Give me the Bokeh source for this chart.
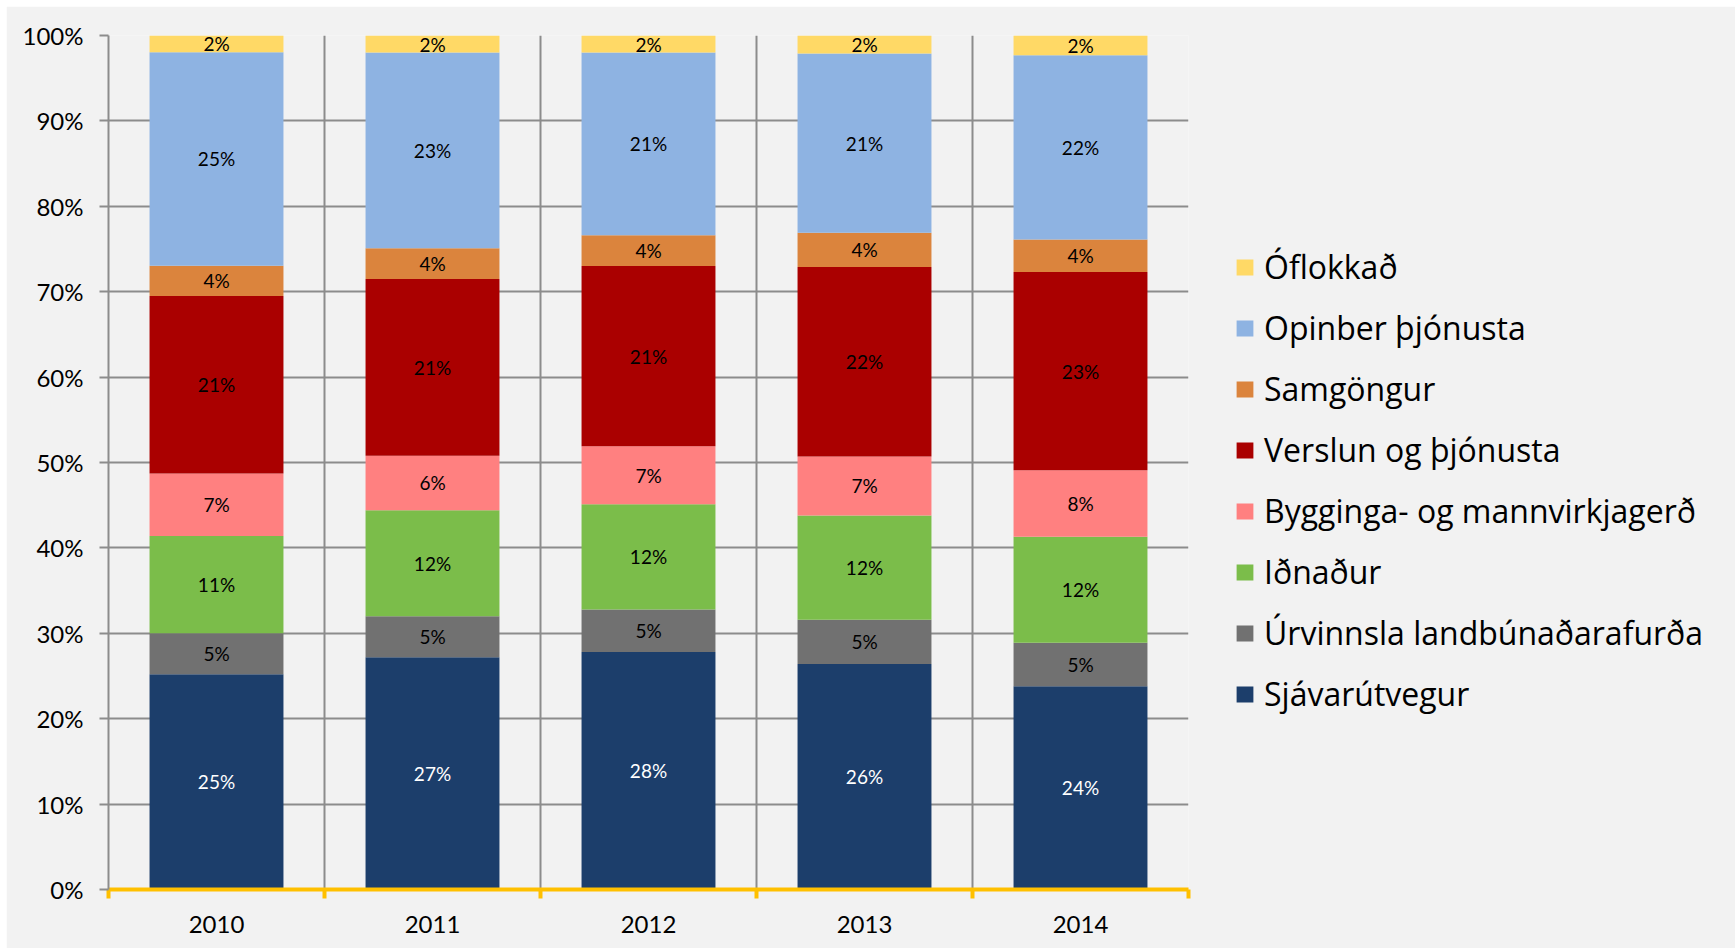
from bokeh.plotting import figure
from bokeh.models import (Range1d, FixedTicker, Legend, LegendItem, ColumnDataSource,
                          PrintfTickFormatter)
from bokeh.core.properties import value
from bokeh.embed import file_html
from bokeh.resources import INLINE

years = [2010, 2011, 2012, 2013, 2014]

# percentage shares per sector (bottom to top of each stack)
sjavarutvegur = [25.2, 27.2, 27.8, 26.4, 23.8]
urvinnsla = [4.8, 4.8, 5.0, 5.2, 5.1]
idnadur = [11.4, 12.4, 12.3, 12.2, 12.4]
bygginga = [7.3, 6.4, 6.8, 6.9, 7.8]
verslun = [20.8, 20.7, 21.1, 22.2, 23.2]
samgongur = [3.55, 3.6, 3.6, 4.0, 3.8]
opinber = [25.0, 22.9, 21.4, 21.0, 21.6]
oflokkad = [2.0, 2.0, 2.0, 2.1, 2.3]

series_names = ["Sjávarútvegur", "Úrvinnsla landbúnaðarafurða", "Iðnaður",
                "Bygginga- og mannvirkjagerð", "Verslun og þjónusta", "Samgöngur",
                "Opinber þjónusta", "Óflokkað"]
series_values = [sjavarutvegur, urvinnsla, idnadur, bygginga, verslun, samgongur,
                 opinber, oflokkad]
colors = ["#1C3E6B", "#717171", "#7BBD4A", "#FF8080", "#AA0000", "#DB843D",
          "#8EB3E2", "#FFD966"]
label_colors = ["#FFFFFF"] + ["#000000"] * 7

yticks = list(range(0, 101, 10))

keys = ["s%d" % i for i in range(len(series_names))]
data = {"year": years}
for k, vals in zip(keys, series_values):
    data[k] = vals
source = ColumnDataSource(data)

FONT = "Lato"
LEGEND_FONT = "Open Sans"
GRID = "#8C8C8C"
GOLD = "#FFC000"
BG = "#F2F2F2"

p = figure(frame_width=1080, frame_height=854, min_border_left=102, min_border_top=29,
           min_border_bottom=59, min_border_right=541,
           x_range=Range1d(years[0] - 0.5, years[-1] + 0.5), y_range=Range1d(0, 100),
           output_backend="svg", toolbar_location=None,
           background_fill_color=BG, border_fill_color=BG, outline_line_color=None)
p.margin = (6, 0, 0, 6)

renderers = p.vbar_stack(keys, x="year", width=0.62, color=colors, source=source,
                         line_color=None)

# data labels
lx, ly, lt, lc = [], [], [], []
for yi, yr in enumerate(years):
    cum = 0.0
    for si, vals in enumerate(series_values):
        v = vals[yi]
        lx.append(yr)
        ly.append(cum + v / 2.0)
        lt.append("%.0f%%" % v)
        lc.append(label_colors[si])
        cum += v
lsrc = ColumnDataSource(dict(x=lx, y=ly, text=lt, color=lc))
p.text(x="x", y="y", text="text", text_color="color", source=lsrc,
       text_font=value(FONT), text_font_size="19px", text_align="center",
       text_baseline="middle")

# x axis: year labels at centres, gold tick marks at category boundaries
bounds = [years[0] - 0.5] + [y + 0.5 for y in years]
xt = FixedTicker(ticks=years, minor_ticks=bounds)
p.xaxis.ticker = xt
p.xaxis.major_label_overrides = {y: str(y) for y in years}
p.xaxis.major_tick_line_color = None
p.xaxis.major_tick_out = 0
p.xaxis.minor_tick_line_color = GOLD
p.xaxis.minor_tick_line_width = 4
p.xaxis.minor_tick_out = 9
p.xaxis.minor_tick_in = 0
p.xaxis.axis_line_color = GOLD
p.xaxis.axis_line_width = 4
p.xaxis.major_label_text_font = FONT
p.xaxis.major_label_text_font_size = "24px"
p.xaxis.major_label_text_color = "#000000"
p.xaxis.major_label_standoff = 17

p.xgrid.ticker = xt
p.xgrid.grid_line_color = None
p.xgrid.minor_grid_line_color = GRID
p.xgrid.minor_grid_line_width = 2

yt = FixedTicker(ticks=yticks, minor_ticks=[])
p.yaxis.ticker = yt
p.yaxis.formatter = PrintfTickFormatter(format="%d%%")
p.yaxis.axis_line_color = GRID
p.yaxis.axis_line_width = 2
p.yaxis.major_tick_line_color = GRID
p.yaxis.major_tick_line_width = 2
p.yaxis.major_tick_out = 9
p.yaxis.major_tick_in = 0
p.yaxis.minor_tick_line_color = None
p.yaxis.major_label_text_font = FONT
p.yaxis.major_label_text_font_size = "24px"
p.yaxis.major_label_text_color = "#000000"
p.yaxis.major_label_standoff = 16
p.ygrid.ticker = yt
p.ygrid.grid_line_color = GRID
p.ygrid.grid_line_width = 2

items = [LegendItem(label=name, renderers=[r])
         for name, r in zip(series_names, renderers)][::-1]
legend = Legend(items=items, location=(46, 174), orientation="vertical",
                glyph_width=21, glyph_height=20, label_height=43, spacing=18,
                label_standoff=9, padding=0, margin=0,
                label_text_font=LEGEND_FONT, label_text_font_size="32px",
                label_text_color="#000000",
                border_line_color=None, background_fill_alpha=0)
p.add_layout(legend, "right")

open("out.html", "w").write(file_html(p, INLINE))
